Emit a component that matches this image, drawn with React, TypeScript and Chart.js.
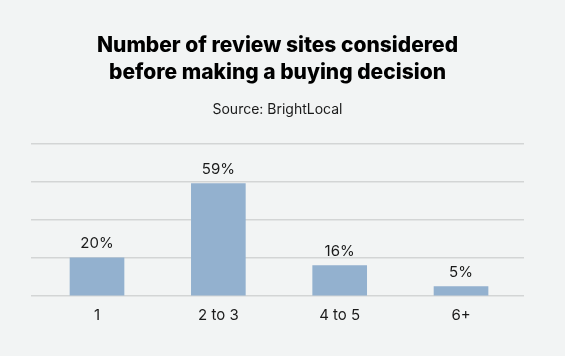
import React, { useEffect, useRef } from "react";
import { Chart, registerables } from "chart.js";

Chart.register(...registerables);

const categories = ["1", "2 to 3", "4 to 5", "6+"];
const shares = [20, 59, 16, 5];
const titleLines = ["Number of review sites considered", "before making a buying decision"];
const sourceText = "Source: BrightLocal";

const BG = "#f2f4f4";
const BAR = "#93b1cf";
const GRID = "#d3d5d5";
const TEXT = "#1a1a1a";
const FONT = "Inter, 'Noto Sans', sans-serif";

const barLabels = {
  id: "barLabels",
  afterDatasetsDraw(chart: any) {
    const ctx = chart.ctx;
    const meta = chart.getDatasetMeta(0);
    ctx.save();
    ctx.font = `400 15px ${FONT}`;
    ctx.fillStyle = TEXT;
    ctx.textAlign = "center";
    ctx.textBaseline = "middle";
    meta.data.forEach((el: any, i: number) => {
      ctx.fillText(`${shares[i]}%`, el.x, el.y - 14);
    });
    ctx.restore();
  },
};

export default function App() {
  const ref = useRef<HTMLCanvasElement | null>(null);
  useEffect(() => {
    document.body.style.margin = "0";
    const chart = new Chart(ref.current!, {
      type: "bar",
      data: {
        datasets: [
          {
            data: shares.map((v, i) => ({ x: i, y: v })),
            backgroundColor: BAR,
            barThickness: 54,
          },
        ],
      },
      options: {
        animation: false,
        responsive: false,
        layout: { padding: { left: 31, right: 41, top: 0, bottom: 30 } },
        plugins: {
          legend: { display: false },
          tooltip: { enabled: false },
          title: {
            display: true,
            text: titleLines,
            color: "#000",
            font: { family: FONT, size: 21, weight: "800", lineHeight: 1.3 },
            padding: { top: 32, bottom: 15 },
          },
          subtitle: {
            display: true,
            text: sourceText,
            color: TEXT,
            font: { family: FONT, size: 14, weight: "normal", lineHeight: 1.2 },
            padding: { top: 0, bottom: 25 },
          },
        },
        scales: {
          x: {
            type: "linear",
            min: -0.544,
            max: 3.519,
            offset: false,
            bounds: "data",
            afterBuildTicks: (scale: any) => {
              scale.ticks = categories.map((_, i) => ({ value: i }));
            },
            grid: { display: false },
            border: { display: false },
            ticks: {
              autoSkip: false,
              maxRotation: 0,
              color: TEXT,
              padding: 2,
              font: { family: FONT, size: 15 },
              callback: (v: any) => {
                const i = Math.round(Number(v));
                return categories[i] !== undefined ? categories[i] : "";
              },
            },
          },
          y: {
            min: 0,
            max: 80,
            ticks: { display: false, stepSize: 20 },
            grid: { color: GRID, lineWidth: 1.5, drawTicks: false },
            border: { display: false },
          },
        },
      },
      plugins: [barLabels],
    });
    return () => chart.destroy();
  }, []);
  return (
    <div style={{ position: "absolute", left: 0, top: 0, width: 565, height: 356, background: BG }}>
      <canvas ref={ref} width={565} height={356} />
    </div>
  );
}
